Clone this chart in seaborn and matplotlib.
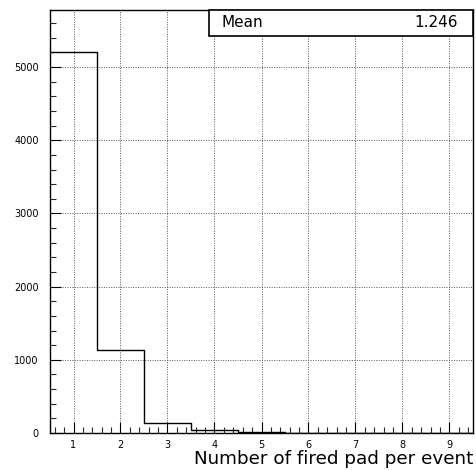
import matplotlib
matplotlib.use("Agg")
import matplotlib.pyplot as plt
from matplotlib.ticker import MultipleLocator
import pandas as pd
import seaborn as sns

# Number of fired pads per event and the event counts in each bin
pads = [1, 2, 3, 4, 5, 6, 7, 8, 9]
counts = [5205, 1140, 137, 40, 10, 0, 3, 0, 0]
mean_label = "1.246"
x_title = "Number of fired pad per event"

sns.set_style("white")
plt.rcParams["font.family"] = ["DejaVu Sans"]
plt.rcParams["text.color"] = "black"
plt.rcParams["axes.labelcolor"] = "black"

df = pd.DataFrame({"pads": pads, "counts": counts})

fig = plt.figure(figsize=(4.76, 4.70), dpi=100)
ax = fig.add_axes([50 / 476, 37 / 470, 423 / 476, 423 / 470])

sns.histplot(data=df, x="pads", weights="counts", bins=9, binrange=(0.5, 9.5),
             element="step", fill=False, color="black", linewidth=1.0, ax=ax)

ax.set_xlim(0.5, 9.5)
ax.set_ylim(0, 5780)

ax.xaxis.set_major_locator(MultipleLocator(1))
ax.xaxis.set_minor_locator(MultipleLocator(0.2))
ax.yaxis.set_major_locator(MultipleLocator(1000))
ax.yaxis.set_minor_locator(MultipleLocator(200))

ax.grid(True, which="major", linestyle=(0, (1, 1.5)), color="#555555", linewidth=0.7)
ax.set_axisbelow(True)

ax.tick_params(axis="both", which="major", direction="in", length=8, width=0.8,
               labelsize=7, colors="black")
ax.tick_params(axis="both", which="minor", direction="in", length=4, width=0.8)
ax.tick_params(axis="y", which="both", left=True, right=False, pad=8)
ax.tick_params(axis="x", which="both", bottom=True, top=False, pad=5)

for s in ax.spines.values():
    s.set_color("black")
    s.set_linewidth(1.0)

ax.set_ylabel("")
ax.set_xlabel(x_title, fontsize=13.2, loc="right", labelpad=0, color="black")

# Statistics box in the top right corner
box_l = (209 - 50) / 423
box_b = 1 - 26 / 423
ax.add_patch(plt.Rectangle((box_l, box_b), 1 - box_l, 1 - box_b, transform=ax.transAxes,
                           facecolor="white", edgecolor="black", linewidth=1.2,
                           zorder=5, clip_on=False))
ax.text(box_l + 0.03, box_b + (1 - box_b) / 2, "Mean", transform=ax.transAxes,
        ha="left", va="center", fontsize=11, zorder=6, color="black")
ax.text((458 - 50) / 423, box_b + (1 - box_b) / 2, mean_label, transform=ax.transAxes,
        ha="right", va="center", fontsize=11, zorder=6, color="black")

fig.savefig("out.png", dpi=100)
